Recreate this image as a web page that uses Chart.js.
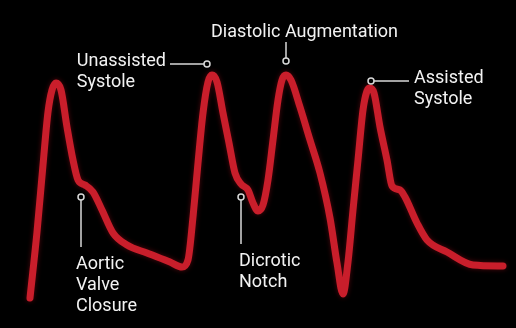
<!DOCTYPE html>
<html lang="en">
<head>
  <meta charset="UTF-8" />
  <title>Arterial Pressure Waveform - IABP</title>
  <script src="https://cdn.jsdelivr.net/npm/chart.js"></script>
  <style>
    html, body {
      margin: 0;
      padding: 0;
      background: #000;
    }

    .wave-container {
      position: relative;
      width: 516px;
      height: 328px;
    }
  </style>
</head>

<body>
  <div class="wave-container">
    <canvas id="waveChart"></canvas>
  </div>

  <script>
    // time (ms) and pressure (mmHg) of the traced beat sequence
    const timeMs = [
      0, 14, 26, 36, 44, 52, 62, 74, 86, 96, 110, 126, 144, 166, 194, 234, 280, 304,
      316, 326, 336, 346, 356, 364, 374, 386, 398, 410, 422, 436, 446, 456, 466,
      476, 486, 496, 504, 512, 522, 540, 560, 580, 600, 614, 626,
      636, 646, 656, 666, 674, 680, 688, 700, 714, 724, 740, 750, 774, 794, 834, 886, 946
    ];
    const pressure = [
      15, 48, 81.5, 108, 119, 122.5, 119, 100.5, 84, 74, 71.5, 68, 59, 47.5, 41.5, 37.5, 33, 30.5,
      34, 55.5, 82.5, 107.5, 123, 126.5, 123, 107.5, 92.5, 77.5, 72, 69, 62.5, 58.5, 61.5,
      74, 94, 114, 124, 126.5, 124, 110.5, 94, 77.5, 55, 32.5, 17,
      33, 59, 84, 109, 118.5, 120, 117.5, 100.5, 84, 71, 69, 65.5, 52.5, 44, 38, 31.5, 31
    ];

    // callouts: label lines and the point (time, pressure) they mark
    const calloutNames = ['Unassisted Systole', 'Diastolic Augmentation', 'Assisted Systole', 'Aortic Valve Closure', 'Dicrotic Notch'];
    const calloutLines = [
      ['Unassisted', 'Systole'],
      ['Diastolic Augmentation'],
      ['Assisted', 'Systole'],
      ['Aortic', 'Valve', 'Closure'],
      ['Dicrotic', 'Notch']
    ];
    const calloutTime = [354, 512, 682, 102, 422];
    const calloutPressure = [132, 133.5, 123.5, 65.5, 65.5];

    // how each callout leads away from its marker
    const calloutStyle = {
      'Unassisted Systole':     { dir: 'left',  len: 34 },
      'Diastolic Augmentation': { dir: 'up',    len: 16, dx: -75 },
      'Assisted Systole':       { dir: 'right', len: 35 },
      'Aortic Valve Closure':   { dir: 'down',  len: 47, dx: -5 },
      'Dicrotic Notch':         { dir: 'down',  len: 44, dx: -2 }
    };

    const FONT = '18px Roboto, "Noto Sans", sans-serif';
    const LINE_H = 21;

    const glowPlugin = {
      id: 'glow',
      beforeDatasetDraw(chart) {
        const c = chart.ctx;
        c.save();
        c.shadowColor = 'rgba(200, 20, 35, 0.4)';
        c.shadowBlur = 5;
      },
      afterDatasetDraw(chart) {
        chart.ctx.restore();
      }
    };

    const calloutPlugin = {
      id: 'callouts',
      afterDatasetsDraw(chart) {
        const c = chart.ctx;
        const xs = chart.scales.x, ys = chart.scales.y;
        c.save();
        c.font = FONT;
        c.fillStyle = '#f2f2f2';
        c.strokeStyle = '#d8d8d8';
        c.lineWidth = 1.5;
        c.textBaseline = 'alphabetic';
        c.textAlign = 'left';

        calloutNames.forEach((name, i) => {
          const st = calloutStyle[name];
          const lines = calloutLines[i];
          const px = xs.getPixelForValue(calloutTime[i]);
          const py = ys.getPixelForValue(calloutPressure[i]);
          const r = 3;

          c.beginPath();
          if (st.dir === 'left') {
            const end = px - r - st.len;
            c.moveTo(px - r, py);
            c.lineTo(end, py);
            c.stroke();
            const w = c.measureText(lines[0]).width;
            const left = end - 4 - w;
            lines.forEach((t, k) => c.fillText(t, left, py + 2 + k * LINE_H));
          } else if (st.dir === 'right') {
            const end = px + r + st.len;
            c.moveTo(px + r, py);
            c.lineTo(end, py);
            c.stroke();
            lines.forEach((t, k) => c.fillText(t, end + 5, py + 2 + k * LINE_H));
          } else if (st.dir === 'up') {
            const end = py - r - st.len;
            c.moveTo(px, py - r);
            c.lineTo(px, end);
            c.stroke();
            lines.forEach((t, k) => c.fillText(t, px + st.dx, end - 5 - (lines.length - 1 - k) * LINE_H));
          } else {
            const end = py + r + st.len;
            c.moveTo(px, py + r);
            c.lineTo(px, end);
            c.stroke();
            lines.forEach((t, k) => c.fillText(t, px + st.dx, end + 22 + k * LINE_H));
          }

          c.beginPath();
          c.arc(px, py, r, 0, Math.PI * 2);
          c.fillStyle = '#000';
          c.fill();
          c.stroke();
          c.fillStyle = '#f2f2f2';
        });
        c.restore();
      }
    };

    const ctx = document.getElementById('waveChart').getContext('2d');
    const waveChart = new Chart(ctx, {
      type: 'line',
      data: {
        datasets: [{
          label: 'Arterial pressure',
          data: timeMs.map((t, i) => ({ x: t, y: pressure[i] })),
          borderColor: '#c91e2b',
          borderWidth: 7,
          borderCapStyle: 'round',
          borderJoinStyle: 'round',
          pointRadius: 0,
          cubicInterpolationMode: 'monotone',
          fill: false,
          clip: false
        }]
      },
      options: {
        responsive: true,
        maintainAspectRatio: false,
        animation: false,
        layout: { padding: 0 },
        plugins: {
          legend: { display: false },
          tooltip: { enabled: false },
          title: { display: false }
        },
        scales: {
          x: { type: 'linear', min: -60, max: 972, display: false },
          y: { min: 0, max: 164, display: false }
        }
      },
      plugins: [glowPlugin, calloutPlugin]
    });
  </script>
</body>
</html>
